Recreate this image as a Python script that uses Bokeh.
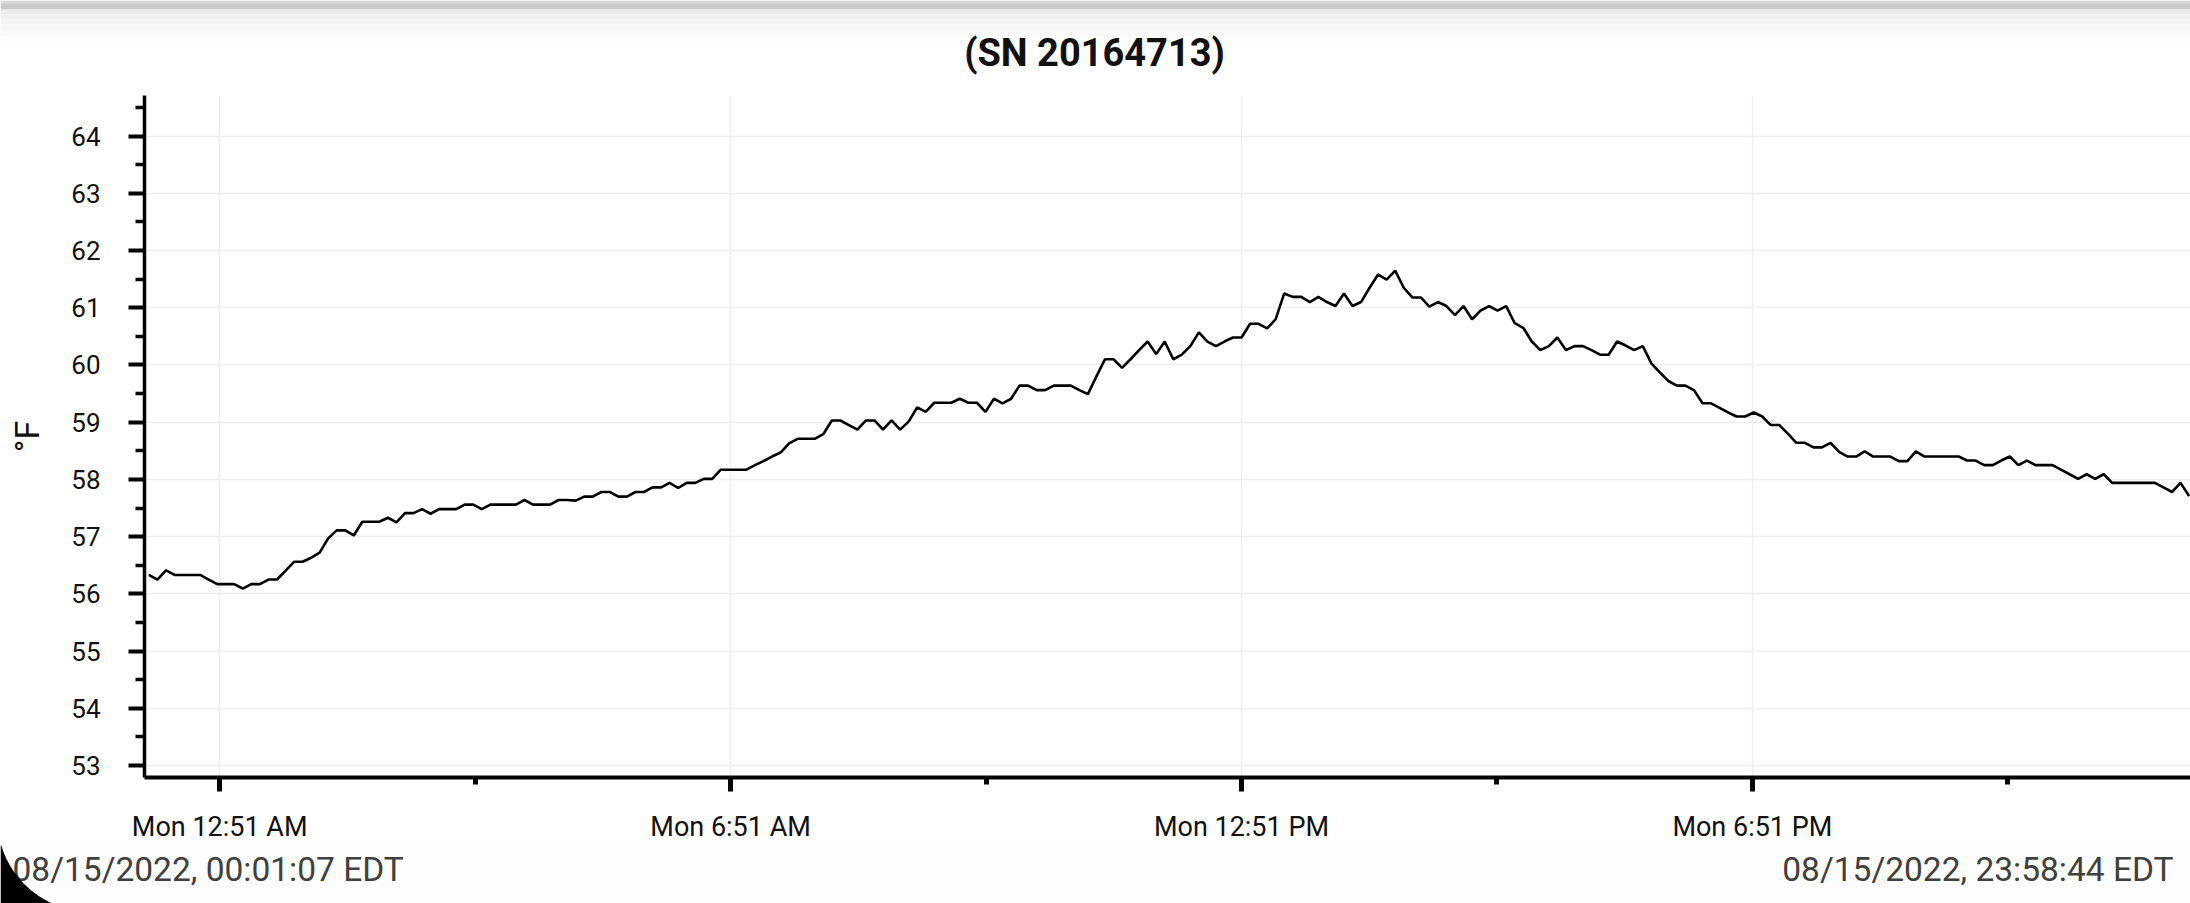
import numpy as np
import pandas as pd
from bokeh.plotting import figure
from bokeh.layouts import column
from bokeh.models import Range1d, FixedTicker
from bokeh.core.properties import value
from bokeh.embed import file_html
from bokeh.resources import INLINE

# ---------------- data ----------------
title_text = "(SN 20164713)"
y_axis_label = "°F"
start_text = "08/15/2022, 00:01:07 EDT"
end_text = "08/15/2022, 23:58:44 EDT"
start_time = "2022-08-15 00:01:07"
end_time = "2022-08-15 23:58:44"

temps = [
    56.33, 56.25, 56.41, 56.33, 56.33, 56.33, 56.33, 56.25, 56.17, 56.17,
    56.17, 56.09, 56.17, 56.17, 56.25, 56.25, 56.40, 56.56, 56.56, 56.63,
    56.72, 56.97, 57.11, 57.11, 57.02, 57.26, 57.26, 57.26, 57.33, 57.25,
    57.41, 57.41, 57.48, 57.40, 57.48, 57.48, 57.48, 57.56, 57.56, 57.48,
    57.56, 57.56, 57.56, 57.56, 57.64, 57.56, 57.56, 57.56, 57.64, 57.64,
    57.63, 57.70, 57.70, 57.78, 57.78, 57.70, 57.70, 57.78, 57.78, 57.86,
    57.86, 57.94, 57.85, 57.94, 57.94, 58.01, 58.01, 58.17, 58.17, 58.17,
    58.17, 58.25, 58.32, 58.40, 58.47, 58.63, 58.71, 58.71, 58.71, 58.79,
    59.03, 59.03, 58.95, 58.87, 59.03, 59.03, 58.87, 59.03, 58.87, 59.01,
    59.26, 59.18, 59.34, 59.34, 59.34, 59.41, 59.34, 59.34, 59.18, 59.41,
    59.33, 59.41, 59.64, 59.64, 59.56, 59.56, 59.64, 59.64, 59.64, 59.56,
    59.49, 59.80, 60.10, 60.10, 59.95, 60.10, 60.26, 60.41, 60.19, 60.41,
    60.10, 60.18, 60.33, 60.57, 60.41, 60.33, 60.41, 60.48, 60.48, 60.72,
    60.72, 60.64, 60.80, 61.25, 61.19, 61.19, 61.10, 61.19, 61.10, 61.03,
    61.25, 61.03, 61.10, 61.35, 61.58, 61.49, 61.65, 61.35, 61.18, 61.18,
    61.02, 61.10, 61.03, 60.87, 61.03, 60.80, 60.95, 61.03, 60.95, 61.03,
    60.73, 60.65, 60.41, 60.26, 60.33, 60.48, 60.26, 60.33, 60.33, 60.26,
    60.18, 60.18, 60.41, 60.34, 60.26, 60.33, 60.03, 59.87, 59.72, 59.64,
    59.64, 59.56, 59.33, 59.33, 59.25, 59.17, 59.10, 59.10, 59.17, 59.10,
    58.95, 58.95, 58.80, 58.64, 58.64, 58.56, 58.56, 58.64, 58.48, 58.40,
    58.40, 58.49, 58.40, 58.40, 58.40, 58.32, 58.32, 58.49, 58.40, 58.40,
    58.40, 58.40, 58.40, 58.33, 58.33, 58.25, 58.25, 58.33, 58.40, 58.25,
    58.33, 58.25, 58.25, 58.25, 58.17, 58.09, 58.01, 58.09, 58.01, 58.09,
    57.94, 57.94, 57.94, 57.94, 57.94, 57.94, 57.86, 57.78, 57.94, 57.71,
]

y_ticks = [53, 54, 55, 56, 57, 58, 59, 60, 61, 62, 63, 64]
y_minor_ticks = [53.5, 54.5, 55.5, 56.5, 57.5, 58.5, 59.5, 60.5, 61.5, 62.5, 63.5, 64.5]
x_tick_times = ["2022-08-15 00:51", "2022-08-15 06:51", "2022-08-15 12:51", "2022-08-15 18:51"]
x_tick_labels = ["Mon 12:51 AM", "Mon 6:51 AM", "Mon 12:51 PM", "Mon 6:51 PM"]
x_minor_times = ["2022-08-15 03:51", "2022-08-15 09:51", "2022-08-15 15:51", "2022-08-15 21:51"]
y_lo, y_hi = 52.79, 64.71

# ---------------- layout constants (pixels) ----------------
W = 2190
HEAD_H, MAIN_H, FOOT_H = 95, 750, 58
FRAME_LEFT, FRAME_BOTTOM_GAP = 144, 68
FONT = "Roboto"


def bare_figure(height, bg):
    f = figure(
        width=W, height=height, x_range=Range1d(0, W), y_range=Range1d(height, 0),
        output_backend="svg", toolbar_location=None, title=None,
        x_axis_location=None, y_axis_location=None,
        min_border_left=0, min_border_right=0, min_border_top=0, min_border_bottom=0,
    )
    f.frame_align = False
    f.grid.visible = False
    f.outline_line_color = None
    f.background_fill_color = bg
    f.border_fill_color = bg
    return f


# ---------------- header: screenshot shadow + title ----------------
shade_bands = [(0, 3, "#d6d6d6"), (3, 9, "#c9c9c9"), (9, 14, "#ebebeb"), (14, 19, "#f0f0f0"),
               (19, 24, "#f4f4f4"), (24, 30, "#f7f7f7"), (30, 36, "#fafafa"), (36, 42, "#fdfdfd")]
head = bare_figure(HEAD_H, "white")
head.quad(left=[0] * len(shade_bands), right=[W] * len(shade_bands),
          top=[b[0] for b in shade_bands], bottom=[b[1] for b in shade_bands],
          fill_color=[b[2] for b in shade_bands], line_color=None)
head.text(x=[1094], y=[52], text=[title_text], text_align="center", text_baseline="alphabetic",
          text_font=value(FONT), text_font_style="bold", text_font_size="38px",
          text_color="#111111")

# ---------------- main chart ----------------
times = pd.date_range(start_time, end_time, periods=len(temps))


def ms(t):
    return float(pd.Timestamp(t).value // 10**6)


x_ticks = [ms(t) for t in x_tick_times]
x_minor = [ms(t) for t in x_minor_times]

p = figure(
    width=W, height=MAIN_H,
    x_axis_type="datetime",
    x_range=Range1d(times[0] - pd.Timedelta(minutes=3.1), times[-1] + pd.Timedelta(minutes=1)),
    y_range=Range1d(y_lo, y_hi),
    output_backend="svg",
    toolbar_location=None,
    title=None,
    min_border_left=FRAME_LEFT, min_border_right=0,
    min_border_top=0, min_border_bottom=FRAME_BOTTOM_GAP,
)
p.frame_align = False
p.outline_line_color = None
p.background_fill_color = "white"
p.border_fill_color = "white"

for g in (p.xgrid, p.ygrid):
    g.grid_line_color = "#eeeeee"
    g.grid_line_width = 1.5

ya = p.yaxis[0]
ya.ticker = FixedTicker(ticks=y_ticks, minor_ticks=y_minor_ticks)
ya.axis_label = y_axis_label
ya.axis_label_text_font = FONT
ya.axis_label_text_font_size = "34px"
ya.axis_label_text_font_style = "normal"
ya.axis_label_text_color = "#111111"
ya.axis_label_standoff = 21
ya.major_label_text_font = FONT
ya.major_label_text_font_size = "26px"
ya.major_label_text_color = "#111111"
ya.major_label_standoff = 28
ya.axis_line_width = 3.5
ya.axis_line_color = "black"
ya.major_tick_out = 16
ya.major_tick_in = 0
ya.minor_tick_out = 9
ya.minor_tick_in = 0
ya.major_tick_line_width = 4
ya.minor_tick_line_width = 3.5
ya.major_tick_line_color = "black"
ya.minor_tick_line_color = "black"

xa = p.xaxis[0]
xa.ticker = FixedTicker(ticks=x_ticks, minor_ticks=x_minor)
xa.major_label_overrides = {t: lab for t, lab in zip(x_ticks, x_tick_labels)}
xa.major_label_text_font = FONT
xa.major_label_text_font_size = "27px"
xa.major_label_text_color = "#111111"
xa.major_label_standoff = 19
xa.axis_line_width = 4
xa.axis_line_color = "black"
xa.major_tick_out = 14
xa.major_tick_in = 0
xa.minor_tick_out = 7
xa.minor_tick_in = 0
xa.major_tick_line_width = 5
xa.minor_tick_line_width = 5
xa.major_tick_line_color = "black"
xa.minor_tick_line_color = "black"

p.line(times, temps, line_color="black", line_width=2.6)

# ---------------- footer: timestamps + rounded screen corner ----------------
foot = bare_figure(FOOT_H, "#fdfdfd")
foot.text(x=[12], y=[24], text=[start_text], text_align="left", text_baseline="alphabetic",
          text_font=value(FONT), text_font_size="33.5px", text_color="#404040")
foot.text(x=[2173], y=[24], text=[end_text], text_align="right", text_baseline="alphabetic",
          text_font=value(FONT), text_font_size="33.5px", text_color="#404040")

# screen corner: part of a circle (centre cx, cy in footer pixels) cropped by the screenshot
CX, CY, CR = 89.3, -26.4, 92.3
edge_y = np.linspace(-3, FOOT_H, 40)
edge_x = CX - np.sqrt(CR ** 2 - (edge_y - CY) ** 2)
corner_x = [0.0] + list(np.clip(edge_x, 0, None)) + [0.0]
corner_y = [float(FOOT_H)] + list(edge_y) + [float(FOOT_H)]
foot.patch(corner_x, corner_y, fill_color="black", line_color=None)

layout = column(head, p, foot, spacing=0)
open("out.html", "w").write(file_html(layout, INLINE))
